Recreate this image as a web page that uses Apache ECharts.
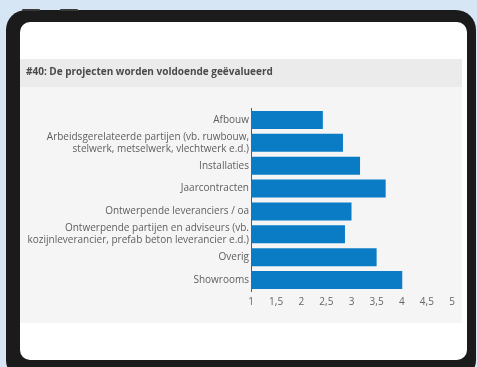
<!DOCTYPE html>
<html>
<head>
<meta charset="utf-8">
<script src="https://cdn.jsdelivr.net/npm/echarts@6/dist/echarts.min.js"></script>
<style>html,body{margin:0;padding:0;background:#d6e6f4;}#c{width:477px;height:367px;}</style>
</head>
<body>
<div id="c"></div>
<script>
const titleText = '#40: De projecten worden voldoende geëvalueerd';
const categories = [
  'Afbouw',
  'Arbeidsgerelateerde partijen (vb. ruwbouw,\nstelwerk, metselwerk, vlechtwerk e.d.)',
  'Installaties',
  'Jaarcontracten',
  'Ontwerpende leveranciers / oa',
  'Ontwerpende partijen en adviseurs (vb.\nkozijnleverancier, prefab beton leverancier e.d.)',
  'Overig',
  'Showrooms'
];
const values = [2.43, 2.83, 3.17, 3.68, 3.0, 2.87, 3.5, 4.01];
const xTicks = [1, 1.5, 2, 2.5, 3, 3.5, 4, 4.5, 5];

const chart = echarts.init(document.getElementById('c'), null, {renderer: 'canvas'});
const font = '"Open Sans", "DejaVu Sans", sans-serif';
chart.setOption({
  backgroundColor: '#d6e6f4',
  animation: false,
  textStyle: {fontFamily: font},
  graphic: [
    {type: 'rect', z: 1, shape: {x: 6, y: 10, width: 470, height: 370, r: 20}, style: {fill: '#1b1b1b'}},
    {type: 'rect', z: 1, shape: {x: 22, y: 9, width: 18, height: 2, r: 1}, style: {fill: '#3a3a3a'}},
    {type: 'rect', z: 1, shape: {x: 60, y: 9, width: 18, height: 2, r: 1}, style: {fill: '#3a3a3a'}},
    {type: 'rect', z: 1, shape: {x: 20, y: 22, width: 447, height: 338, r: [10, 10, 10, 10]}, style: {fill: '#ffffff'}},
    {type: 'rect', z: 1, shape: {x: 20, y: 59, width: 442, height: 28}, style: {fill: '#ebebeb'}},
    {type: 'rect', z: 1, shape: {x: 20, y: 87, width: 442, height: 236}, style: {fill: '#f5f5f5'}}
  ],
  title: {
    text: titleText,
    left: 26,
    top: 67,
    padding: 0,
    z: 5,
    textStyle: {fontSize: 10, fontWeight: 'bold', color: '#4a4a4a', fontFamily: font}
  },
  grid: {left: 251, right: 25, top: 108.5, bottom: 75.5, containLabel: false},
  xAxis: {
    type: 'value',
    min: 1,
    max: 5,
    interval: 0.5,
    z: 5,
    axisLine: {show: false},
    axisTick: {show: false},
    splitLine: {show: false},
    axisLabel: {
      fontSize: 10,
      color: '#666',
      margin: 6,
      fontFamily: font,
      formatter: function (v) {
        const t = xTicks.find(function (x) { return Math.abs(x - v) < 1e-9; });
        return t === undefined ? '' : String(t).replace('.', ',');
      }
    }
  },
  yAxis: {
    type: 'category',
    data: categories,
    inverse: true,
    z: 5,
    axisLine: {show: true, lineStyle: {color: '#555', width: 1}},
    axisTick: {show: false},
    axisLabel: {fontSize: 10, color: '#5e5e5e', margin: 2, lineHeight: 12, fontFamily: font}
  },
  series: [{
    type: 'bar',
    data: values,
    barWidth: 18,
    z: 6,
    itemStyle: {color: '#0a7cc6'}
  }]
});
</script>
</body>
</html>
